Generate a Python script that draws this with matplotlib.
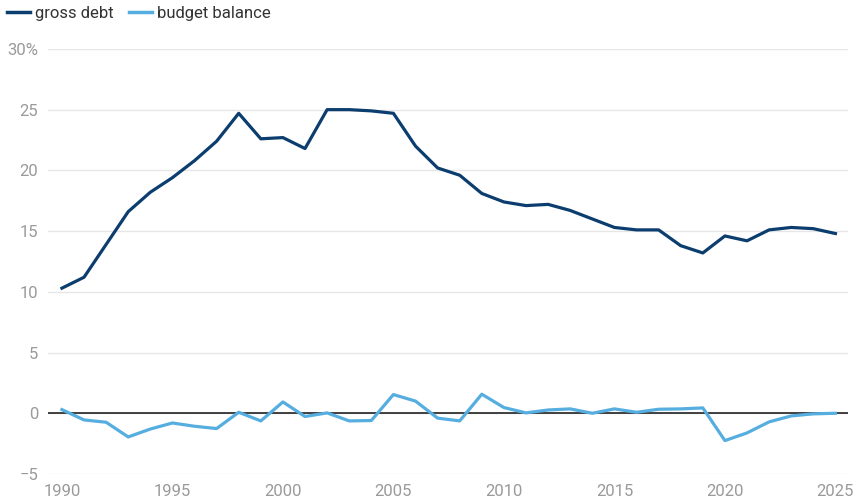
import matplotlib.pyplot as plt
from matplotlib.lines import Line2D

years = list(range(1990, 2026))

gross_debt = [10.3, 11.2, 13.9, 16.6, 18.2, 19.4, 20.8, 22.4, 24.7, 22.6,
              22.7, 21.8, 25.0, 25.0, 24.9, 24.7, 22.0, 20.2, 19.6, 18.1,
              17.4, 17.1, 17.2, 16.7, 16.0, 15.3, 15.1, 15.1, 13.8, 13.2,
              14.6, 14.2, 15.1, 15.3, 15.2, 14.8]

budget_balance = [0.3, -0.55, -0.74, -1.95, -1.3, -0.8, -1.07, -1.26, 0.08, -0.63,
                  0.93, -0.27, 0.03, -0.63, -0.6, 1.54, 1.0, -0.4, -0.63, 1.57,
                  0.47, 0.03, 0.27, 0.36, 0.0, 0.36, 0.08, 0.33, 0.36, 0.44,
                  -2.25, -1.62, -0.71, -0.22, -0.05, 0.0]

y_ticks = [-5, 0, 5, 10, 15, 20, 25, 30]
y_labels = ["\u22125", "0", "5", "10", "15", "20", "25", "30%"]
x_ticks = [1990, 1995, 2000, 2005, 2010, 2015, 2020, 2025]

plt.rcParams['font.family'] = ['Roboto', 'DejaVu Sans']

fig = plt.figure(figsize=(8.57, 5.03), dpi=100)
ax = fig.add_axes([0.056, 0.0577, 0.9335, 0.845])

debt_color = "#0b3d6e"
balance_color = "#56aee0"

ax.plot(years, gross_debt, color=debt_color, lw=2.3, zorder=3)
ax.plot(years, budget_balance, color=balance_color, lw=2.3, zorder=3)
ax.axhline(0, color="#222222", lw=1.2, zorder=2)

ax.set_xlim(1989.37, 2025.57)
ax.set_ylim(-5, 30)
ax.set_yticks(y_ticks)
ax.set_yticklabels(y_labels)
ax.set_xticks(x_ticks)
ax.grid(axis='y', color="#e6e6e6", lw=1, zorder=1)
ax.tick_params(axis='both', length=0, labelsize=12, labelcolor="#9a9a9a")
ax.tick_params(axis='y', pad=7)
ax.tick_params(axis='x', pad=7)
for s in ax.spines.values():
    s.set_visible(False)

handles = [Line2D([], [], color=debt_color, lw=2.5),
           Line2D([], [], color=balance_color, lw=2.5)]
fig.legend(handles, ["gross debt", "budget balance"], loc='upper left',
           bbox_to_anchor=(7 / 857, 1 - 6 / 503), ncol=2, frameon=False, fontsize=12,
           handlelength=1.38, handletextpad=0.3, columnspacing=0.9,
           borderpad=0, borderaxespad=0, labelcolor="#333333")

fig.savefig("out.png", dpi=100)
